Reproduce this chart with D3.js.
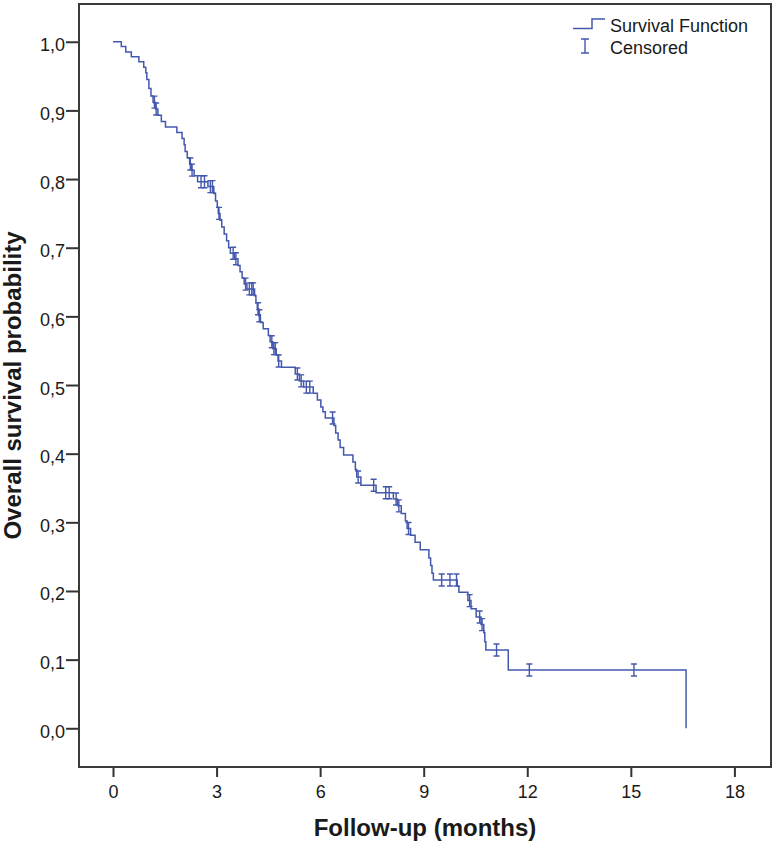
<!DOCTYPE html>
<html>
<head>
<meta charset="utf-8">
<script src="https://cdn.jsdelivr.net/npm/d3@7"></script>
<style>
  html, body { margin: 0; padding: 0; background: #fff; }
  svg text { font-family: Arial, 'Liberation Sans', sans-serif; fill: #1a1a1a; }
</style>
</head>
<body>
<div id="chart"></div>
<script>
// Kaplan-Meier steps: time (months) and survival after the drop
const eventTime = [0, 0.24, 0.37, 0.53, 0.75, 0.89, 0.95, 0.98, 1.04, 1.10, 1.16, 1.23, 1.30, 1.40, 1.52, 1.85,
  2.00, 2.06, 2.09, 2.15, 2.22, 2.27, 2.35, 2.45, 2.75, 2.92, 2.97, 3.02, 3.05, 3.10, 3.15, 3.22, 3.29, 3.35,
  3.40, 3.52, 3.62, 3.68, 3.74, 3.80, 3.88, 4.10, 4.14, 4.18, 4.22, 4.27, 4.35, 4.50, 4.55, 4.63, 4.73, 4.78,
  4.88, 5.28, 5.40, 5.52, 5.80, 5.92, 6.02, 6.08, 6.15, 6.40, 6.45, 6.52, 6.58, 6.68, 6.95, 7.02, 7.06, 7.18,
  7.62, 8.12, 8.24, 8.35, 8.47, 8.52, 8.62, 8.75, 8.90, 9.15, 9.20, 9.24, 9.28, 9.97, 10.02, 10.28, 10.37,
  10.52, 10.66, 10.74, 10.77, 10.80, 11.45, 16.60];
const survival = [1.000, 0.993, 0.985, 0.978, 0.971, 0.963, 0.955, 0.945, 0.932, 0.921, 0.912, 0.902, 0.893,
  0.884, 0.876, 0.868, 0.859, 0.850, 0.840, 0.831, 0.822, 0.813, 0.805, 0.796, 0.789, 0.779, 0.768, 0.759,
  0.750, 0.740, 0.730, 0.720, 0.710, 0.700, 0.692, 0.684, 0.674, 0.665, 0.656, 0.647, 0.640, 0.630, 0.620,
  0.611, 0.601, 0.591, 0.582, 0.572, 0.563, 0.553, 0.544, 0.535, 0.526, 0.516, 0.506, 0.497, 0.488, 0.478,
  0.468, 0.461, 0.452, 0.441, 0.430, 0.420, 0.409, 0.398, 0.388, 0.377, 0.366, 0.354, 0.343, 0.334, 0.324,
  0.313, 0.302, 0.291, 0.281, 0.271, 0.260, 0.248, 0.237, 0.226, 0.216, 0.207, 0.198, 0.186, 0.174, 0.162,
  0.151, 0.139, 0.126, 0.114, 0.085, 0.000];

// censored observations (months)
const censorTime = [1.20, 1.25, 2.24, 2.29, 2.55, 2.65, 2.82, 2.88, 3.07, 3.48, 3.56, 3.84, 3.95, 4.02, 4.06,
  4.20, 4.24, 4.60, 4.66, 4.70, 4.80, 5.34, 5.45, 5.60, 5.70, 6.36, 7.10, 7.55, 7.90, 8.00, 8.20, 8.28, 8.56,
  9.52, 9.76, 9.95, 10.33, 10.62, 10.69, 11.11, 12.06, 15.09];

const xTicks = [0, 3, 6, 9, 12, 15, 18];
const yTicks = [0, 0.1, 0.2, 0.3, 0.4, 0.5, 0.6, 0.7, 0.8, 0.9, 1.0];

const width = 774, height = 845;
const box = { left: 79, right: 771, top: 4, bottom: 767 };
const color = '#4458ad';

const svg = d3.select('#chart').append('svg')
  .attr('width', width)
  .attr('height', height);

const x = d3.scaleLinear().domain([-0.985, 19.06]).range([box.left, box.right]);
const y = d3.scaleLinear().domain([-0.0564, 1.055]).range([box.bottom, box.top]);

const fmt = d => d3.format('.1f')(d).replace('.', ',');

// x axis
svg.append('g')
  .attr('transform', `translate(0,${box.bottom})`)
  .call(d3.axisBottom(x).tickValues(xTicks).tickSize(10).tickSizeOuter(0))
  .call(g => g.select('.domain').remove())
  .call(g => g.selectAll('.tick line').attr('stroke', '#333').attr('stroke-width', 2))
  .call(g => g.selectAll('.tick text')
    .attr('y', 31).attr('dy', 0)
    .style('font-size', '18px'));

// y axis
svg.append('g')
  .attr('transform', `translate(${box.left},0)`)
  .call(d3.axisLeft(y).tickValues(yTicks).tickFormat(fmt).tickSize(13).tickSizeOuter(0))
  .call(g => g.select('.domain').remove())
  .call(g => g.selectAll('.tick line').attr('stroke', '#333').attr('stroke-width', 2))
  .call(g => g.selectAll('.tick text')
    .attr('x', -14).attr('dy', 9)
    .style('font-size', '18px'));

// frame
svg.append('rect')
  .attr('x', box.left)
  .attr('y', box.top)
  .attr('width', box.right - box.left)
  .attr('height', box.bottom - box.top)
  .attr('fill', 'none')
  .attr('stroke', '#3a3a3a')
  .attr('stroke-width', 2);

// survival curve
const steps = eventTime.map((t, i) => [t, survival[i]]);
const line = d3.line()
  .x(d => x(d[0]))
  .y(d => y(d[1]))
  .curve(d3.curveStepAfter);

svg.append('path')
  .datum(steps)
  .attr('d', line)
  .attr('fill', 'none')
  .attr('stroke', color)
  .attr('stroke-width', 1.5);

// censor marks sit on the curve level at their time
const levelAt = t => survival[d3.bisectRight(eventTime, t) - 1];
const censor = svg.append('g')
  .attr('stroke', color)
  .attr('stroke-width', 1.4)
  .attr('fill', 'none');

censor.selectAll('path')
  .data(censorTime)
  .join('path')
  .attr('d', t => {
    const cx = x(t), cy = y(levelAt(t));
    return `M${cx - 3},${cy - 6}H${cx + 3}M${cx},${cy - 6}V${cy + 6}M${cx - 3},${cy + 6}H${cx + 3}`;
  });

// legend
const legend = svg.append('g');
legend.append('path')
  .attr('d', 'M573,28.5H592V19H605')
  .attr('fill', 'none')
  .attr('stroke', color)
  .attr('stroke-width', 1.5);
legend.append('path')
  .attr('d', 'M581,39H589M585,39V53M581,53H589')
  .attr('fill', 'none')
  .attr('stroke', color)
  .attr('stroke-width', 1.4);
legend.append('text')
  .attr('x', 610).attr('y', 31.5)
  .style('font-size', '18px')
  .text('Survival Function');
legend.append('text')
  .attr('x', 610).attr('y', 53.5)
  .style('font-size', '18px')
  .text('Censored');

// axis titles
svg.append('text')
  .attr('x', (box.left + box.right) / 2)
  .attr('y', 836)
  .attr('text-anchor', 'middle')
  .style('font-size', '24px')
  .style('font-weight', 'bold')
  .text('Follow-up (months)');

svg.append('text')
  .attr('transform', `translate(21,${(box.top + box.bottom) / 2}) rotate(-90)`)
  .attr('text-anchor', 'middle')
  .style('font-size', '24px')
  .style('font-weight', 'bold')
  .text('Overall survival probability');
</script>
</body>
</html>
